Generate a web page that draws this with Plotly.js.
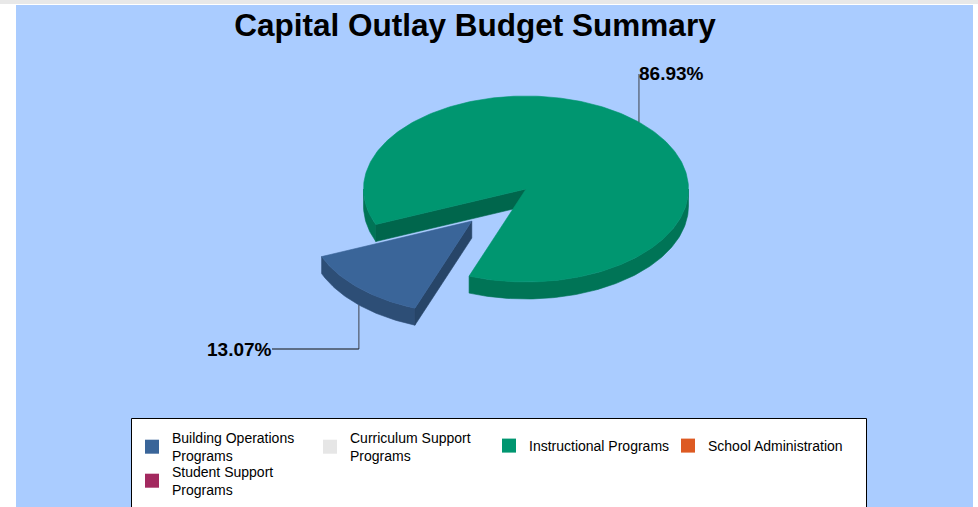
<!DOCTYPE html>
<html><head><meta charset="utf-8">
<script src="https://cdn.plot.ly/plotly-3.0.1.min.js"></script>
<style>
html,body{margin:0;padding:0;background:#fff;overflow:hidden;width:978px;height:507px;}
#topbar{position:absolute;left:0;top:0;width:978px;height:4px;background:#e8e8e8;}
#chart{position:absolute;left:16px;top:5px;width:957px;height:540px;}
</style></head><body><div id="topbar"></div><div id="chart"></div>
<script>
// ---- data ----
const categories = ['Building Operations Programs','Curriculum Support Programs','Instructional Programs','School Administration','Student Support Programs'];
const legendLabels = ['Building Operations<br>Programs','Curriculum Support<br>Programs','Instructional Programs','School Administration','Student Support<br>Programs'];
const values = [13.07, 0, 86.93, 0, 0];
const sliceColors = ['#3a6599','#e6e6e6','#009670','#dd5a22','#a3295f'];
const pulls = [0.48, 0, 0, 0, 0];
// which legend block each entry sits in (two-line row 1, single-line row 1, row 2)
const legendGroupOf = ['legend','legend','legend2','legend2','legend3'];

// ---- geometry / style (page pixel coordinates) ----
const G = {cx: 526, cy: 189, rx: 162.5, ry: 93, depth: 17, start: 249.5};
const FONT = 'Liberation Sans, Arial, sans-serif';
const DIV = {left: 16, top: 5, w: 957, h: 540};
const X0 = DIV.left, X1 = DIV.left + DIV.w;
const py = yPage => 1 - (yPage - DIV.top)/DIV.h;
const px = xPage => (xPage - X0)/(X1 - X0);

function shade(hex, f){
  const n = parseInt(hex.slice(1),16);
  const r = Math.round(((n>>16)&255)*f), g = Math.round(((n>>8)&255)*f), b = Math.round((n&255)*f);
  return 'rgb('+r+','+g+','+b+')';
}
const rad = d => d*Math.PI/180;
function pt(c, a, dz){ return [c[0] + G.rx*Math.cos(rad(a)), c[1] - G.ry*Math.sin(rad(a)) + (dz||0)]; }
function arc(c, a0, a1, dz){
  const n = Math.max(2, Math.ceil(Math.abs(a1-a0)));
  const out = [];
  for(let i=0;i<=n;i++) out.push(pt(c, a0 + (a1-a0)*i/n, dz));
  return out;
}
function poly(points, color, name){
  return {type:'scatter', mode:'lines', x: points.map(p=>p[0]).concat([points[0][0]]), y: points.map(p=>p[1]).concat([points[0][1]]),
    fill:'toself', fillcolor: color, line:{color: color, width: 0.6}, hoverinfo:'skip', showlegend:false, name: name};
}

const total = values.reduce((a,b)=>a+b,0);
let cum = 0;
const slices = [];
values.forEach((v,i)=>{
  const span = v/total*360;
  const hi = G.start - cum/total*360;   // clockwise from start angle
  const lo = hi - span;
  cum += v;
  if(v <= 0) return;
  const mid = (lo+hi)/2;
  const p = pulls[i];
  const c = [G.cx + p*G.rx*Math.cos(rad(mid)), G.cy - p*G.ry*Math.sin(rad(mid))];
  slices.push({i, lo, hi, mid, c, pull:p});
});

const traces = [];
const order = slices.slice().sort((a,b)=>a.pull-b.pull);
order.forEach(s=>{
  const col = sliceColors[s.i];
  for(let k=-2;k<=2;k++){
    const f0 = 180+360*k, f1 = 360+360*k;
    const a0 = Math.max(s.lo, f0), a1 = Math.min(s.hi, f1);
    if(a1 > a0){
      const top = arc(s.c, a0, a1, 0), bot = arc(s.c, a1, a0, G.depth);
      traces.push(poly(top.concat(bot), shade(col, 0.77), categories[s.i]));
    }
  }
  if(s.hi - s.lo < 360){
    [[s.lo, Math.cos(rad(s.lo)) > 0],[s.hi, Math.cos(rad(s.hi)) < 0]].forEach(([a, vis])=>{
      if(!vis) return;
      const r = pt(s.c, a, 0), rb = pt(s.c, a, G.depth);
      traces.push(poly([s.c, r, rb, [s.c[0], s.c[1]+G.depth]], shade(col, 0.68), categories[s.i]));
    });
  }
  traces.push(poly([s.c].concat(arc(s.c, s.lo, s.hi, 0)), col, categories[s.i]));
});

// leader lines + labels
const annotations = [];
slices.forEach(s=>{
  const txt = (values[s.i]/total*100).toFixed(2)+'%';
  const front = Math.sin(rad(s.mid)) < 0;
  if(!front){
    const a = pt(s.c, s.mid, 0);
    const labY = 74;
    traces.push({type:'scatter', mode:'lines', x:[a[0],a[0]], y:[a[1],labY], line:{color:'#4f5869', width:1.2}, hoverinfo:'skip', showlegend:false});
    annotations.push({x:a[0], y:labY-0.5, xref:'x', yref:'y', text:'<b>'+txt+'</b>', showarrow:false, xanchor:'left', yanchor:'middle', xshift:-2,
      font:{family:FONT, size:19, color:'#000'}});
  } else {
    const a = pt(s.c, s.mid, G.depth);
    const elbowY = 349, endX = 272;
    traces.push({type:'scatter', mode:'lines', x:[a[0],a[0]], y:[a[1],elbowY], line:{color:'#4f5869', width:1.2}, hoverinfo:'skip', showlegend:false});
    traces.push({type:'scatter', mode:'lines', x:[a[0],endX], y:[elbowY,elbowY], line:{color:'#111', width:1.2}, hoverinfo:'skip', showlegend:false});
    annotations.push({x:endX, y:elbowY, xref:'x', yref:'y', text:'<b>'+txt+'</b>', showarrow:false, xanchor:'right', yanchor:'middle', xshift:2,
      font:{family:FONT, size:19, color:'#000'}});
  }
});

// legend entries
categories.forEach((c,i)=>{
  traces.push({type:'scatter', mode:'markers', x:[null], y:[null], name: legendLabels[i], legend: legendGroupOf[i],
    marker:{symbol:'square', size:14, color: sliceColors[i]}, showlegend:true, hoverinfo:'skip'});
});

const legendBase = {orientation:'h', xanchor:'left', yanchor:'top', bgcolor:'rgba(0,0,0,0)', borderwidth:0,
  entrywidthmode:'pixels', font:{family:FONT, size:14, color:'#000'}, itemclick:false, itemdoubleclick:false, traceorder:'normal'};

const layout = {
  width: DIV.w, height: DIV.h,
  margin:{l:0, r:0, t:0, b:0},
  paper_bgcolor:'#aaccff', plot_bgcolor:'rgba(0,0,0,0)',
  title:{text:'Capital Outlay Budget Summary', font:{family:FONT, size:31.5, color:'#000', weight:'bold'},
    x:px(475), xanchor:'center', xref:'container', y:py(25), yanchor:'middle', yref:'container'},
  xaxis:{range:[X0, X1], visible:false, fixedrange:true, showgrid:false, zeroline:false},
  yaxis:{range:[DIV.top+DIV.h, DIV.top], visible:false, fixedrange:true, showgrid:false, zeroline:false},
  showlegend:true,
  legend: Object.assign({}, legendBase, {x:px(132), y:py(422), entrywidth:133}),
  legend2: Object.assign({}, legendBase, {x:px(489), y:py(430), entrywidth:134}),
  legend3: Object.assign({}, legendBase, {x:px(132), y:py(456), entrywidth:133}),
  shapes:[{type:'rect', xref:'x', yref:'y', x0:131.5, x1:866.5, y0:418.5, y1:560, line:{color:'#000', width:1}, fillcolor:'#ffffff', layer:'above'}],
  annotations: annotations
};
Plotly.newPlot('chart', traces, layout, {displayModeBar:false, staticPlot:true});
</script></body></html>
